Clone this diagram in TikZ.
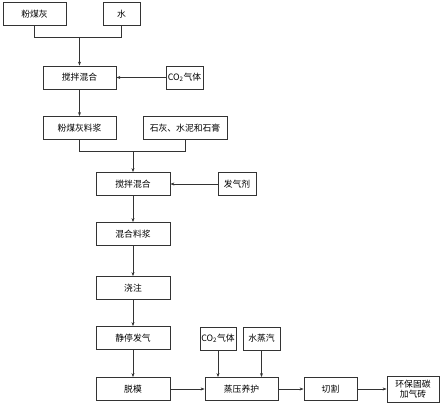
\documentclass[tikz,border=0pt]{standalone}
\usepackage{fontspec}
\setmainfont{Noto Sans CJK SC}
\usetikzlibrary{arrows.meta}
\begin{document}
\begin{tikzpicture}[x=1pt,y=-1pt,
  box/.style={draw=black!80,line width=0.8pt,inner sep=0pt,minimum height=23pt,font=\fontsize{8.8}{11}\selectfont},
  flow/.style={draw=black!80,line width=0.8pt,-{Stealth[length=4pt,width=3pt]}},
  link/.style={draw=black!80,line width=0.8pt}]
\useasboundingbox (0,0) rectangle (443,406);

\node[box,minimum width=63pt] (fly) at (34.5,14) {粉煤灰};
\node[box,minimum width=37pt] (water) at (121.5,14) {水};
\node[box,minimum width=73pt] (mixA) at (79.5,77.5) {搅拌混合};
\node[box,minimum width=37pt] (co2A) at (184.5,77.5) {CO\textsubscript{2}气体};
\node[box,minimum width=73pt] (slurryA) at (79.5,128) {粉煤灰料浆};
\node[box,minimum width=84pt] (lime) at (185,128) {石灰、水泥和石膏};
\node[box,minimum width=74pt] (mixB) at (133,184) {搅拌混合};
\node[box,minimum width=38pt] (agent) at (237,184) {发气剂};
\node[box,minimum width=74pt] (slurryB) at (133,234) {混合料浆};
\node[box,minimum width=74pt] (pour) at (133,288) {浇注};
\node[box,minimum width=74pt] (rest) at (133,338) {静停发气};
\node[box,minimum width=74pt] (demold) at (133,389) {脱模};
\node[box,minimum width=73pt] (cure) at (241.5,389) {蒸压养护};
\node[box,minimum width=36pt] (co2B) at (218,338.5) {CO\textsubscript{2}气体};
\node[box,minimum width=37pt] (vapor) at (261.5,338.5) {水蒸汽};
\node[box,minimum width=53pt] (cut) at (330.5,389) {切割};
\node[box,minimum width=52pt,minimum height=26pt,align=center,font=\fontsize{8.8}{10.5}\selectfont] (brick) at (413,389) {环保固碳\\加气砖};

\coordinate (joinA) at (79.5,37);
\coordinate (joinB) at (133,151);

\draw[link] (fly.south) |- (joinA);
\draw[link] (water.south) |- (joinA);
\draw[flow] (joinA) -- (mixA);
\draw[flow] (co2A) -- (mixA);
\draw[flow] (mixA) -- (slurryA);
\draw[link] (slurryA.south) |- (joinB);
\draw[link] (lime.south) |- (joinB);
\draw[flow] (joinB) -- (mixB);
\draw[flow] (agent) -- (mixB);
\draw[flow] (mixB) -- (slurryB);
\draw[flow] (slurryB) -- (pour);
\draw[flow] (pour) -- (rest);
\draw[flow] (rest) -- (demold);
\draw[flow] (demold) -- (cure);
\draw[flow] (co2B) -- (co2B |- cure.north);
\draw[flow] (vapor) -- (vapor |- cure.north);
\draw[flow] (cure) -- (cut);
\draw[flow] (cut) -- (brick);

\end{tikzpicture}
\end{document}
